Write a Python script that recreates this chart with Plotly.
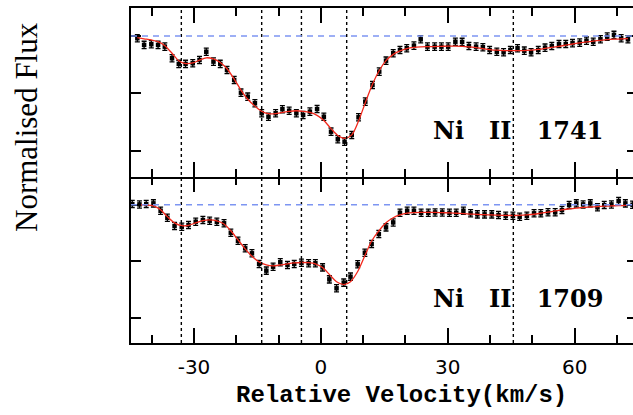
import plotly.graph_objects as go

# ---------------- data ----------------
vel_1741 = [-43.4, -41.8, -40.1, -38.5, -36.9, -35.2, -33.6, -32.0, -30.3, -28.7,
            -27.1, -25.4, -23.8, -22.2, -20.5, -18.9, -17.3, -15.6, -14.0, -12.4,
            -10.7, -9.1, -7.5, -5.8, -4.2, -2.6, -0.9, 0.7, 2.4, 4.0,
            5.6, 7.3, 8.9, 10.5, 12.2, 13.8, 15.4, 17.1, 18.7, 20.3,
            22.0, 23.6, 25.2, 26.9, 28.5, 30.1, 31.8, 33.4, 35.0, 36.7,
            38.3, 39.9, 41.6, 43.2, 44.8, 46.5, 48.1, 49.7, 51.4, 53.0,
            54.6, 56.3, 57.9, 59.5, 61.2, 62.8, 64.4, 66.1, 67.7, 69.3,
            71.0, 72.6]
flux_1741 = [0.980, 0.922, 0.928, 0.922, 0.907, 0.806, 0.757, 0.757, 0.763, 0.791,
             0.863, 0.777, 0.757, 0.704, 0.617, 0.507, 0.472, 0.415, 0.328, 0.298,
             0.328, 0.363, 0.350, 0.328, 0.313, 0.342, 0.365, 0.298, 0.168, 0.102,
             0.081, 0.139, 0.293, 0.429, 0.574, 0.690, 0.785, 0.850, 0.878, 0.893,
             0.916, 0.971, 0.907, 0.907, 0.907, 0.907, 0.950, 0.948, 0.913, 0.907,
             0.902, 0.878, 0.863, 0.858, 0.878, 0.893, 0.872, 0.858, 0.878, 0.898,
             0.913, 0.930, 0.930, 0.937, 0.942, 0.959, 0.950, 0.971, 0.994, 1.009,
             0.980, 0.971]
model_1741 = [0.985, 0.975, 0.965, 0.950, 0.915, 0.850, 0.785, 0.760, 0.765, 0.790,
              0.810, 0.800, 0.770, 0.715, 0.625, 0.530, 0.450, 0.390, 0.345, 0.325,
              0.325, 0.335, 0.345, 0.350, 0.345, 0.335, 0.310, 0.265, 0.195, 0.135,
              0.110, 0.140, 0.260, 0.420, 0.580, 0.700, 0.785, 0.840, 0.870, 0.890,
              0.900, 0.905, 0.907, 0.908, 0.910, 0.912, 0.912, 0.910, 0.905, 0.898,
              0.890, 0.882, 0.876, 0.873, 0.873, 0.872, 0.872, 0.876, 0.883, 0.892,
              0.900, 0.910, 0.920, 0.930, 0.940, 0.948, 0.955, 0.962, 0.968, 0.972,
              0.975, 0.976]

vel_1709 = [-44.6, -42.9, -41.3, -39.6, -37.9, -36.3, -34.6, -32.9, -31.3, -29.6,
            -27.9, -26.3, -24.6, -22.9, -21.3, -19.6, -17.9, -16.3, -14.6, -12.9,
            -11.3, -9.6, -7.9, -6.3, -4.6, -2.9, -1.3, 0.4, 2.0, 3.7,
            5.4, 7.0, 8.7, 10.4, 12.0, 13.7, 15.4, 17.1, 18.7, 20.4,
            22.0, 23.7, 25.4, 27.0, 28.7, 30.4, 32.0, 33.7, 35.4, 37.0,
            38.7, 40.4, 42.0, 43.7, 45.4, 47.0, 48.7, 50.4, 52.0, 53.7,
            55.4, 57.0, 58.7, 60.4, 62.0, 63.7, 65.4, 67.0, 68.7, 70.4,
            72.0, 73.7]
flux_1709 = [1.006, 1.003, 1.006, 1.012, 0.947, 0.885, 0.812, 0.806, 0.821, 0.850,
             0.865, 0.859, 0.850, 0.836, 0.753, 0.682, 0.615, 0.571, 0.477, 0.418,
             0.453, 0.492, 0.468, 0.477, 0.488, 0.483, 0.483, 0.447, 0.341, 0.262,
             0.312, 0.365, 0.474, 0.576, 0.653, 0.741, 0.800, 0.844, 0.929, 0.947,
             0.947, 0.929, 0.929, 0.932, 0.932, 0.929, 0.929, 0.947, 0.924, 0.915,
             0.915, 0.915, 0.909, 0.903, 0.903, 0.894, 0.903, 0.924, 0.924, 0.933,
             0.933, 0.953, 0.997, 1.012, 1.003, 1.012, 0.977, 0.997, 1.003, 1.033,
             1.012, 1.000]
model_1709 = [1.000, 1.000, 0.998, 0.990, 0.955, 0.895, 0.840, 0.815, 0.818, 0.840,
              0.860, 0.866, 0.858, 0.830, 0.770, 0.690, 0.610, 0.545, 0.495, 0.468,
              0.460, 0.468, 0.478, 0.486, 0.490, 0.488, 0.478, 0.445, 0.385, 0.320,
              0.295, 0.320, 0.410, 0.550, 0.680, 0.770, 0.840, 0.885, 0.910, 0.925,
              0.930, 0.932, 0.932, 0.932, 0.930, 0.928, 0.925, 0.922, 0.918, 0.915,
              0.912, 0.910, 0.908, 0.906, 0.905, 0.906, 0.910, 0.916, 0.925, 0.935,
              0.945, 0.955, 0.963, 0.970, 0.976, 0.980, 0.984, 0.987, 0.990, 0.992,
              0.994, 0.995]

flux_err = 0.032
components = [-33.0, -14.0, -4.6, 6.1, 45.5]
x_tick_vals = [-30, 0, 30, 60]
x_tick_text = ["-30", "0", "30", "60"]
y_tick_vals = [0.0, 0.5, 1.0]
panel_labels = ["Ni\u00a0\u00a0 II\u00a0\u00a0 1741", "Ni\u00a0\u00a0 II\u00a0\u00a0 1709"]
continuum = 1.0

# ---------------- figure ----------------
W, H = 633, 415
ml, mr, mt, mb = 131, 0, 8, 72
PW, PH = W - ml - mr, H - mt - mb
split = (343 - 177) / PH
xr = [-44.9, 73.8]
yr_top = [-0.226, 1.243]
yr_bot = [-0.221, 1.245]

fig = go.Figure()

panels = [(vel_1741, flux_1741, model_1741, "x", "y"),
          (vel_1709, flux_1709, model_1709, "x2", "y2")]
for vel, flux, model, xa, ya in panels:
    fig.add_trace(go.Scatter(
        x=vel, y=flux, mode="markers", xaxis=xa, yaxis=ya,
        marker=dict(symbol="square", size=4.5, color="black"),
        error_y=dict(type="constant", value=flux_err, color="black",
                     thickness=1.3, width=2.5),
        showlegend=False, hoverinfo="skip"))
    fig.add_trace(go.Scatter(
        x=vel, y=model, mode="lines", xaxis=xa, yaxis=ya,
        line=dict(color="#f2281c", width=1.3, shape="spline", smoothing=0.8),
        showlegend=False, hoverinfo="skip"))

# empty helper traces so the overlay tick-only axes are drawn
fig.add_trace(go.Scatter(x=[], y=[], xaxis="x3", yaxis="y2", showlegend=False))
fig.add_trace(go.Scatter(x=[], y=[], xaxis="x", yaxis="y3", showlegend=False))
fig.add_trace(go.Scatter(x=[], y=[], xaxis="x2", yaxis="y4", showlegend=False))

minor_x = dict(dtick=10, tick0=0, ticks="inside", ticklen=8, tickwidth=1.5,
               tickcolor="black")
base_x = dict(range=xr, showgrid=False, zeroline=False, domain=[0, 1],
              ticks="inside", ticklen=15, tickwidth=2, tickcolor="black",
              tickvals=x_tick_vals, ticktext=x_tick_text, minor=minor_x)
base_y = dict(showgrid=False, zeroline=False, ticks="inside", ticklen=10,
              tickwidth=1.5, tickcolor="black", tickvals=y_tick_vals,
              showticklabels=False)

fig.update_layout(
    xaxis=dict(base_x, anchor="y", showline=True, linecolor="black", linewidth=2,
               mirror="ticks", showticklabels=False),
    xaxis2=dict(base_x, anchor="y2", showline=True, linecolor="black", linewidth=2,
                mirror=False, showticklabels=True,
                tickfont=dict(family="DejaVu Sans", size=20, color="black"),
                ticklabelstandoff=5),
    xaxis3=dict(base_x, anchor="y2", overlaying="x2", side="top", showline=False,
                showticklabels=False),
    yaxis=dict(base_y, domain=[split, 1], range=yr_top, anchor="x",
               showline=True, linecolor="black", linewidth=2, mirror=False),
    yaxis2=dict(base_y, domain=[0, split], range=yr_bot, anchor="x2",
                showline=True, linecolor="black", linewidth=2, mirror=False),
    yaxis3=dict(base_y, range=yr_top, anchor="x", overlaying="y", side="right",
                showline=False, ticklen=6),
    yaxis4=dict(base_y, range=yr_bot, anchor="x2", overlaying="y2", side="right",
                showline=False, ticklen=6),
)

shapes = []
for v in components:
    shapes.append(dict(type="line", xref="x", yref="paper", x0=v, x1=v, y0=0, y1=1,
                       line=dict(color="black", width=1.4, dash="3px,3px"),
                       layer="above"))
for yref, xdom in [("y", "x domain"), ("y2", "x2 domain")]:
    shapes.append(dict(type="line", xref=xdom, yref=yref, x0=0, x1=1,
                       y0=continuum, y1=continuum,
                       line=dict(color="#7d95f2", width=1.5, dash="6px,5px")))

annotations = [
    dict(text="Normalised Flux", xref="paper", yref="paper",
         x=(26 - ml) / PW, y=(H - mb - 127) / PH,
         textangle=-90, showarrow=False, xanchor="center", yanchor="middle",
         font=dict(family="Liberation Serif", size=31, color="black")),
    dict(text="<b>Relative Velocity(km/s)</b>", xref="paper", yref="paper",
         x=(401.5 - ml) / PW, y=(H - mb - 395) / PH,
         showarrow=False, xanchor="center", yanchor="middle",
         font=dict(family="Liberation Mono", size=24, color="black")),
]
for lab, ypx in zip(panel_labels, [130, 298]):
    annotations.append(dict(text="<b>" + lab + "</b>", xref="paper", yref="paper",
                            x=(518 - ml) / PW, y=(H - mb - ypx) / PH,
                            showarrow=False, xanchor="center", yanchor="middle",
                            font=dict(family="DejaVu Serif", size=24, color="black")))

fig.update_layout(width=W, height=H, margin=dict(l=ml, r=mr, t=mt, b=mb),
                  paper_bgcolor="white", plot_bgcolor="white",
                  shapes=shapes, annotations=annotations)

fig.write_html("out.html")
